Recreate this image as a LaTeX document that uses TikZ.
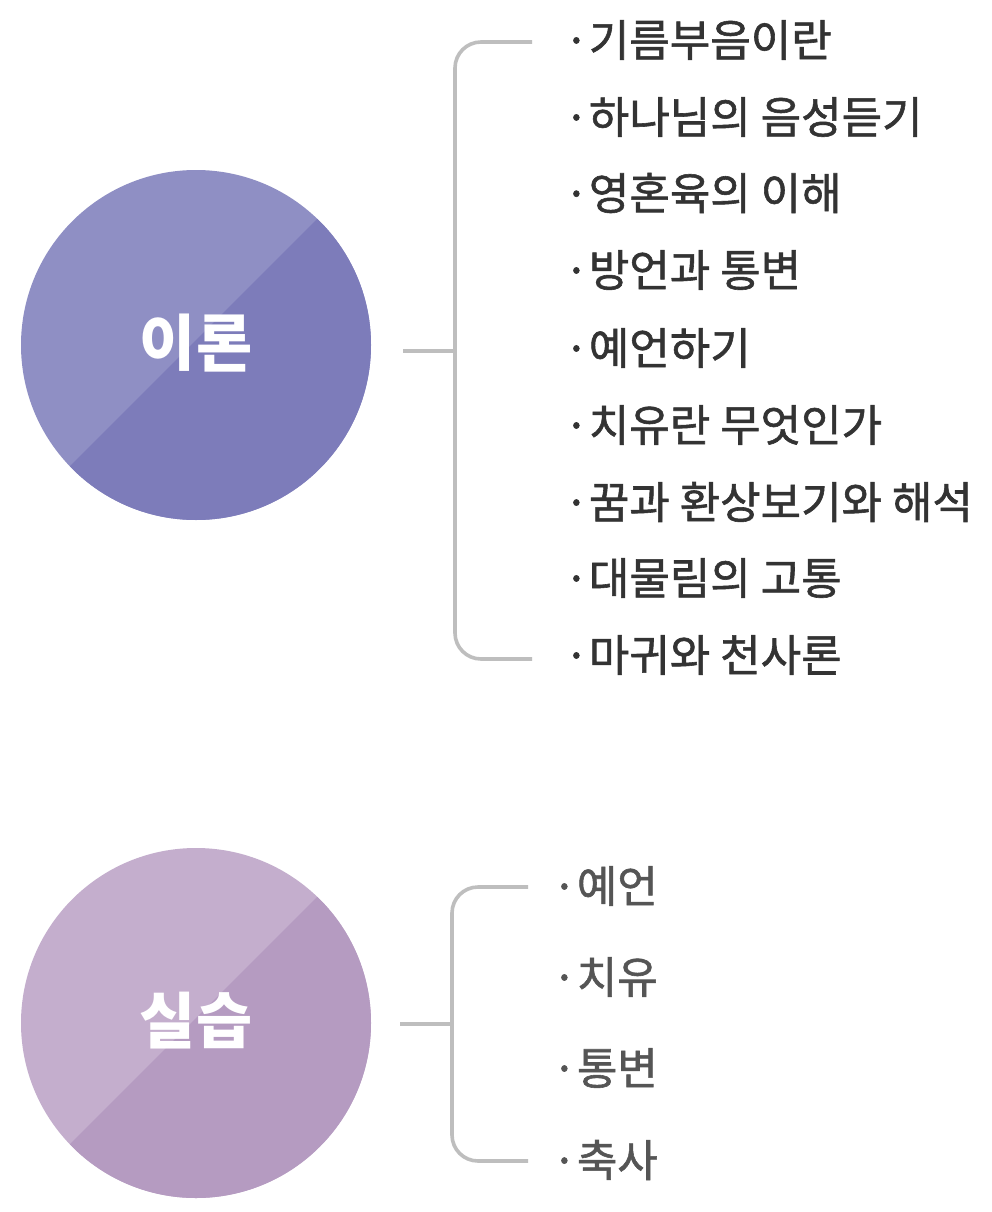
\documentclass[tikz,border=0pt]{standalone}
\usepackage{fontspec}
\newfontfamily\kr{Noto Sans CJK KR}
\newfontfamily\krm[FakeBold=1.3]{Noto Sans CJK KR}
\definecolor{aLight}{RGB}{143,143,196}
\definecolor{aDark}{RGB}{125,124,186}
\definecolor{bLight}{RGB}{196,174,205}
\definecolor{bDark}{RGB}{181,155,193}
\definecolor{brk}{RGB}{190,190,190}
\definecolor{txtA}{RGB}{51,51,51}
\definecolor{txtB}{RGB}{85,85,85}
\tikzset{
  itemA/.style={anchor=west, inner sep=0pt, font=\krm\fontsize{44}{44}\selectfont, text=txtA},
  itemB/.style={anchor=west, inner sep=0pt, font=\krm\fontsize{44}{44}\selectfont, text=txtB},
  title/.style={inner sep=0pt, font=\kr\bfseries\fontsize{61}{61}\selectfont, text=white},
  bracket/.style={draw=brk, line width=3.6pt, rounded corners=26pt}
}
\begin{document}
\begin{tikzpicture}[x=1pt,y=-1pt]
\useasboundingbox (0,0) rectangle (991,1212);
\fill[white] (0,0) rectangle (991,1212);
% circle 1
\begin{scope}
  \clip (196,345) circle (175);
  \fill[aLight] (0,150) rectangle (400,540);
  \fill[aDark] (836,-300) -- (-300,836) -- (1000,1000) -- cycle;
\end{scope}
\node[title] (t1) at (196,343) {이론};
% circle 2
\begin{scope}
  \clip (196,1023) circle (175);
  \fill[bLight] (0,830) rectangle (400,1212);
  \fill[bDark] (1514,-300) -- (-300,1514) -- (1500,1500) -- cycle;
\end{scope}
\node[title] (t2) at (196,1021) {실습};
% items group 1
\node[itemA] (a1) at (564,40) {·기름부음이란};
\node[itemA] (a2) at (564,117) {·하나님의 음성듣기};
\node[itemA] (a3) at (564,193) {·영혼육의 이해};
\node[itemA] (a4) at (564,270) {·방언과 통변};
\node[itemA] (a5) at (564,348) {·예언하기};
\node[itemA] (a6) at (564,425) {·치유란 무엇인가};
\node[itemA] (a7) at (564,502) {·꿈과 환상보기와 해석};
\node[itemA] (a8) at (564,578) {·대물림의 고통};
\node[itemA] (a9) at (564,655) {·마귀와 천사론};
% items group 2
\node[itemB] (b1) at (552,886) {·예언};
\node[itemB] (b2) at (552,977) {·치유};
\node[itemB] (b3) at (552,1068) {·통변};
\node[itemB] (b4) at (552,1160) {·축사};
% bracket 1
\coordinate (s1) at (403,351);
\coordinate (j1) at (455,351);
\coordinate (u1) at (532,42);
\coordinate (d1) at (532,659);
\draw[brk, line width=3.6pt] (s1) -- (j1);
\draw[bracket] (u1) -- (455,42) -- (455,659) -- (d1);
% bracket 2
\coordinate (s2) at (400,1024);
\coordinate (j2) at (452,1024);
\coordinate (u2) at (528,887);
\coordinate (d2) at (528,1161);
\draw[brk, line width=3.6pt] (s2) -- (j2);
\draw[bracket] (u2) -- (452,887) -- (452,1161) -- (d2);
\end{tikzpicture}
\end{document}
